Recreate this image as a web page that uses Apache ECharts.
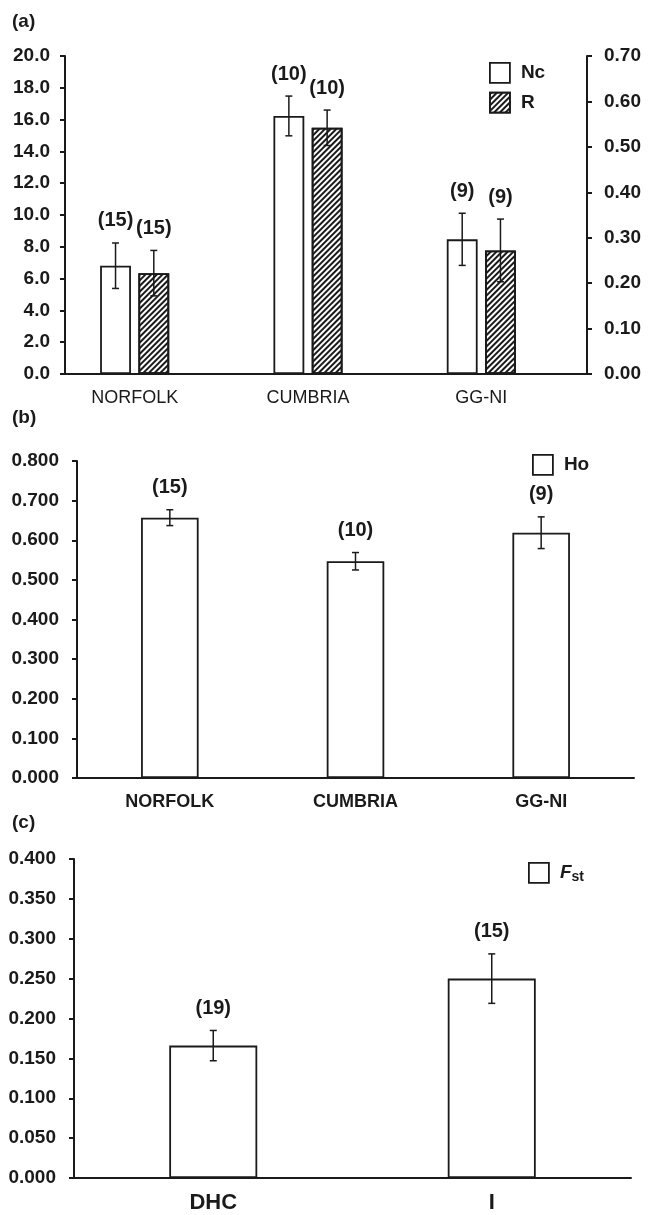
<!DOCTYPE html>
<html><head><meta charset="utf-8">
<script src="https://cdn.jsdelivr.net/npm/echarts@6/dist/echarts.min.js"></script>
<style>html,body{margin:0;padding:0;background:#fff}#c{width:648px;height:1215px}</style>
</head><body><div id="c"></div>
<script>
// ---- Panel (a) ----
const catsA = ['NORFOLK', 'CUMBRIA', 'GG-NI'];
const ncVals = [6.81, 16.23, 8.47];
const ncErr = [1.43, 1.25, 1.64];
const ncN = ['(15)', '(10)', '(9)'];
const rVals = [0.222, 0.542, 0.272];
const rErr = [0.050, 0.039, 0.069];
const rN = ['(15)', '(10)', '(9)'];
// ---- Panel (b) ----
const catsB = ['NORFOLK', 'CUMBRIA', 'GG-NI'];
const hoVals = [0.657, 0.547, 0.619];
const hoErr = [0.020, 0.022, 0.040];
const hoN = ['(15)', '(10)', '(9)'];
// ---- Panel (c) ----
const catsC = ['DHC', 'I'];
const fstVals = [0.166, 0.250];
const fstErr = [0.019, 0.031];
const fstN = ['(19)', '(15)'];

const INK = '#1a1a1a';
const FONT = '"Liberation Sans", Arial, sans-serif';
const BW_A = 0.178, GAP_A = 0.24;
const offA = BW_A * (1 + GAP_A) / 2;

function errSeries(name, xi, yi, vals, errs, labels, offFrac) {
  return {
    type: 'custom', name: name, xAxisIndex: xi, yAxisIndex: yi, z: 5,
    data: vals.map((v, i) => [i, v, errs[i]]),
    renderItem: function (params, api) {
      const i = api.value(0), v = api.value(1), e = api.value(2);
      const band = api.size([1, 0])[0];
      const x = api.coord([i, v])[0] + offFrac * band;
      const yT = api.coord([i, v + e])[1];
      const yB = api.coord([i, v - e])[1];
      const cap = 3.5, ls = { stroke: INK, lineWidth: 1.5 };
      return { type: 'group', children: [
        { type: 'line', shape: { x1: x, y1: yT, x2: x, y2: yB }, style: ls },
        { type: 'line', shape: { x1: x - cap, y1: yT, x2: x + cap, y2: yT }, style: ls },
        { type: 'line', shape: { x1: x - cap, y1: yB, x2: x + cap, y2: yB }, style: ls },
        { type: 'text', x: x, y: yT - 22, style: { text: labels[params.dataIndex], align: 'center', verticalAlign: 'middle', font: 'bold 20px ' + FONT, fill: INK } }
      ] };
    }
  };
}

function yAx(grid, min, max, step, dec, pos, show, margin) {
  return {
    type: 'value', gridIndex: grid, min: min, max: max, interval: step, position: pos, show: show,
    axisLine: { show: true, lineStyle: { color: INK, width: 2 } },
    axisTick: { show: true, length: 5, inside: false, lineStyle: { color: INK, width: 2 } },
    axisLabel: { formatter: v => v.toFixed(dec), fontFamily: FONT, fontWeight: 'bold', fontSize: 19, color: INK, margin: margin },
    splitLine: { show: false }
  };
}

function xAx(grid, cats, showLine, showLabel, fs, fw, margin) {
  return {
    type: 'category', gridIndex: grid, data: cats,
    axisLine: { show: showLine, lineStyle: { color: INK, width: 2 } },
    axisTick: { show: false },
    axisLabel: { show: showLabel, fontFamily: FONT, fontSize: fs, fontWeight: fw, color: INK, margin: margin }
  };
}

const plainBar = { color: '#ffffff', borderColor: INK, borderWidth: 1.8 };
const hatchBar = { color: '#ffffff', borderColor: INK, borderWidth: 1.8,
  decal: { symbol: 'rect', symbolSize: 1, dashArrayX: [1, 0], dashArrayY: [1.6, 1.8], rotation: -Math.PI / 4, color: INK } };

const legendBase = { orient: 'vertical', icon: 'rect', itemWidth: 20, itemHeight: 20, itemGap: 8, padding: 0,
  itemStyle: { borderColor: INK, borderWidth: 1.8 },
  textStyle: { fontFamily: FONT, fontWeight: 'bold', fontSize: 19, color: INK, padding: [0, 0, 0, 6] } };

const option = {
  animation: false,
  backgroundColor: '#ffffff',
  title: [
    { text: '(a)', left: 12, top: 12, padding: 0, textStyle: { fontFamily: FONT, fontWeight: 'bold', fontSize: 19, color: INK } },
    { text: '(b)', left: 12, top: 408, padding: 0, textStyle: { fontFamily: FONT, fontWeight: 'bold', fontSize: 19, color: INK } },
    { text: '(c)', left: 12, top: 813, padding: 0, textStyle: { fontFamily: FONT, fontWeight: 'bold', fontSize: 19, color: INK } }
  ],
  grid: [
    { left: 65, top: 56, width: 522, height: 318 },
    { left: 48, top: 56, width: 520, height: 318 },
    { left: 77, top: 461, width: 557, height: 317 },
    { left: 74, top: 859, width: 557, height: 319 }
  ],
  xAxis: [
    xAx(0, catsA, true, false, 18, 'normal', 14),
    xAx(1, catsA, false, true, 18, 'normal', 15),
    xAx(2, catsB, true, true, 18, 'bold', 15),
    xAx(3, catsC, true, true, 22, 'bold', 14)
  ],
  yAxis: [
    yAx(0, 0, 20, 2, 1, 'left', true, 15),
    yAx(0, 0, 0.7, 0.1, 2, 'right', true, 17),
    yAx(1, 0, 20, 2, 1, 'left', false, 15),
    yAx(1, 0, 0.7, 0.1, 2, 'right', false, 17),
    yAx(2, 0, 0.8, 0.1, 3, 'left', true, 18),
    yAx(3, 0, 0.4, 0.05, 3, 'left', true, 18)
  ],
  legend: [
    Object.assign({}, legendBase, { data: ['Nc', 'R'], left: 489, top: 62 }),
    Object.assign({}, legendBase, { data: ['Ho'], left: 532, top: 454 }),
    Object.assign({}, legendBase, { data: ['Fst'], left: 528, top: 862,
      formatter: () => '{f|F}{s|st}',
      textStyle: { fontFamily: FONT, color: INK, padding: [0, 0, 0, 6],
        rich: { f: { fontFamily: FONT, fontWeight: 'bold', fontStyle: 'italic', fontSize: 19, color: INK },
                s: { fontFamily: FONT, fontWeight: 'bold', fontSize: 14, color: INK, padding: [8, 0, 0, 0] } } } })
  ],
  series: [
    { type: 'bar', name: 'Nc', xAxisIndex: 1, yAxisIndex: 2, data: ncVals, barWidth: (BW_A * 100) + '%', barGap: (GAP_A * 100) + '%', itemStyle: plainBar },
    { type: 'bar', name: 'R', xAxisIndex: 1, yAxisIndex: 3, data: rVals, barWidth: (BW_A * 100) + '%', barGap: (GAP_A * 100) + '%', itemStyle: hatchBar },
    errSeries('errNc', 1, 2, ncVals, ncErr, ncN, -offA),
    errSeries('errR', 1, 3, rVals, rErr, rN, offA),
    { type: 'bar', name: 'Ho', xAxisIndex: 2, yAxisIndex: 4, data: hoVals, barWidth: '31%', itemStyle: plainBar },
    errSeries('errHo', 2, 4, hoVals, hoErr, hoN, 0),
    { type: 'bar', name: 'Fst', xAxisIndex: 3, yAxisIndex: 5, data: fstVals, barWidth: '31.6%', itemStyle: plainBar },
    errSeries('errFst', 3, 5, fstVals, fstErr, fstN, 0)
  ]
};

const chart = echarts.init(document.getElementById('c'), null, { renderer: 'canvas' });
chart.setOption(option);
</script>
</body></html>
